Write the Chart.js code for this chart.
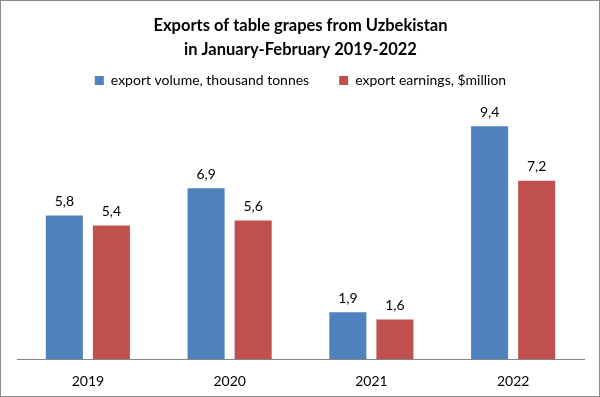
<!DOCTYPE html>
<html>
<head>
<meta charset="utf-8">
<script src="https://cdn.jsdelivr.net/npm/chart.js@4/dist/chart.umd.min.js"></script>
<style>
    html, body { margin: 0; padding: 0; background: #fff; }
    #wrap { width: 600px; height: 397px; box-sizing: border-box; border: 1px solid #8a8a8a; }
</style>
</head>
<body>
<div id="wrap"><canvas id="chart" width="598" height="395"></canvas></div>
<script>
const years = ['2019', '2020', '2021', '2022']
const exportVolume = [5.8, 6.9, 1.9, 9.4]
const exportEarnings = [5.4, 5.6, 1.6, 7.2]
const titleLines = ['Exports of table grapes from Uzbekistan', 'in January-February 2019-2022']

const fontFamily = 'Lato, "Open Sans", sans-serif'

// Draw values above the bars, with a comma as decimal mark
const barLabels = {
    id: 'barLabels',
    afterDatasetsDraw(chart) {
        const ctx = chart.ctx
        ctx.save()
        ctx.font = `14px ${fontFamily}`
        ctx.fillStyle = '#000'
        ctx.textAlign = 'center'
        ctx.textBaseline = 'bottom'
        chart.data.datasets.forEach((ds, i) => {
            chart.getDatasetMeta(i).data.forEach((bar, j) => {
                ctx.fillText(ds.data[j].toFixed(1).replace('.', ','), bar.x, bar.y - 7)
            })
        })
        ctx.restore()
    }
}

// Extra room between the legend and the plot
const legendGap = {
    id: 'legendGap',
    beforeInit(chart) {
        const fit = chart.legend.fit
        chart.legend.fit = function () {
            fit.bind(chart.legend)()
            this.height += 14
        }
    }
}

new Chart(document.getElementById('chart'), {
    type: 'bar',
    data: {
        labels: years,
        datasets: [
            { label: 'export volume, thousand tonnes', data: exportVolume, backgroundColor: '#4F81BD' },
            { label: 'export earnings, $million', data: exportEarnings, backgroundColor: '#C0504D' }
        ]
    },
    options: {
        responsive: false,
        animation: false,
        categoryPercentage: 0.664,
        barPercentage: 0.787,
        layout: { padding: { left: 16, right: 15, top: 4, bottom: -8 } },
        scales: {
            x: {
                grid: { display: false, drawTicks: false },
                border: { display: true, color: '#868686' },
                ticks: { color: '#000', font: { size: 14, family: fontFamily }, padding: 14 }
            },
            y: {
                display: false,
                min: 0,
                max: 10
            }
        },
        plugins: {
            title: {
                display: true,
                text: titleLines,
                color: '#000',
                font: { size: 16.5, weight: 'bold', family: fontFamily, lineHeight: 1.5 },
                padding: { top: 8, bottom: -19 }
            },
            legend: {
                labels: {
                    color: '#000',
                    font: { size: 14, family: fontFamily },
                    boxWidth: 9,
                    boxHeight: 9,
                    padding: 30
                }
            },
            tooltip: { enabled: false }
        }
    },
    plugins: [barLabels, legendGap]
})
</script>
</body>
</html>
